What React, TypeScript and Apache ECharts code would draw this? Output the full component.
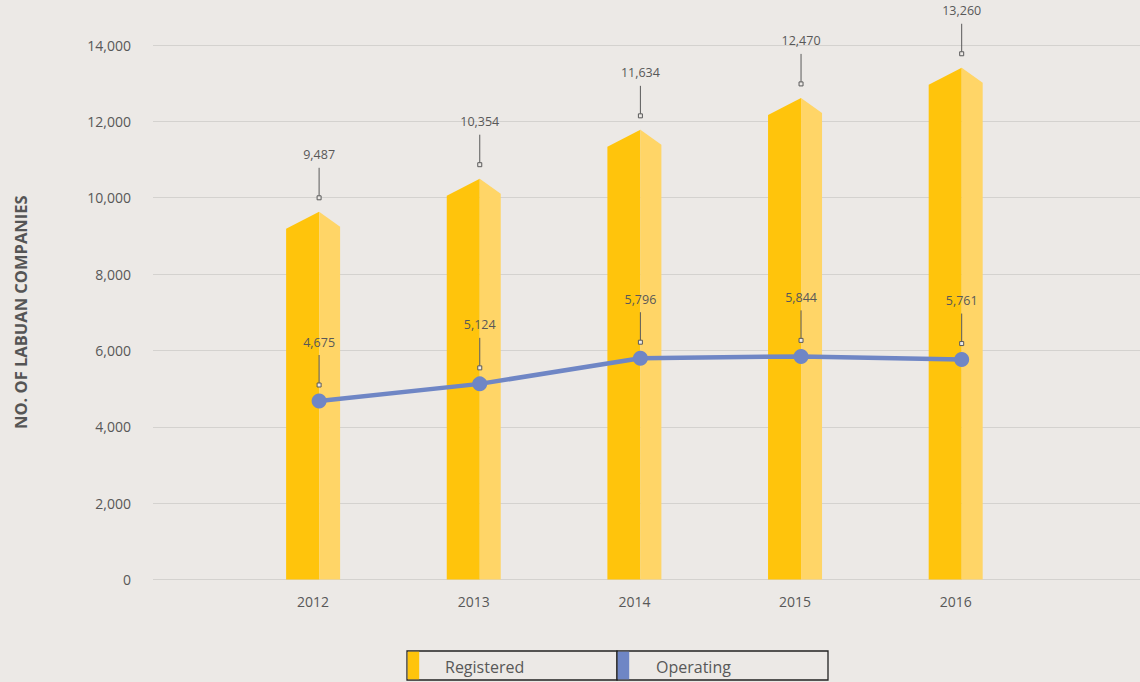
import React, { useEffect, useRef } from "react";
import * as echarts from "echarts";

const years = ["2012", "2013", "2014", "2015", "2016"];
const registered = [9487, 10354, 11634, 12470, 13260];
const operating = [4675, 5124, 5796, 5844, 5761];
const seriesNames = ["Registered", "Operating"];

const C_BAR_L = "#FFC40C";
const C_BAR_R = "#FFD567";
const C_LINE = "#6F86C5";
const C_TEXT = "#585858";
const BG = "#ECE9E6";
const FONT = "'Open Sans', 'Noto Sans', sans-serif";

export default function App() {
  const ref = useRef<HTMLDivElement>(null);

  useEffect(() => {
    if (!ref.current) return;
    const chart = echarts.init(ref.current, undefined, { renderer: "svg" });

    const regData = years.map((y, i) => [Number(y), registered[i]]);
    const opData = years.map((y, i) => [Number(y), operating[i]]);

    const annot = (gap: number) => (params: any, api: any) => {
      const x = api.value(0);
      const v = api.value(1);
      const p = api.coord([x, v]);
      const cx = p[0];
      const my = p[1] - gap;
      return {
        type: "group",
        children: [
          {
            type: "line",
            shape: { x1: cx, y1: my - 30, x2: cx, y2: my - 2 },
            style: { stroke: "#5a5a5a", lineWidth: 1 },
          },
          {
            type: "rect",
            shape: { x: cx - 2, y: my - 2, width: 4, height: 4 },
            style: { fill: BG, stroke: "#5a5a5a", lineWidth: 1 },
          },
          {
            type: "text",
            x: cx,
            y: my - 43,
            style: {
              text: api.value(1).toLocaleString("en-US"),
              fill: C_TEXT,
              fontSize: 12.5,
              fontFamily: FONT,
              align: "center",
              verticalAlign: "middle",
            },
          },
        ],
      };
    };

    const option: any = {
      animation: false,
      backgroundColor: BG,
      textStyle: { fontFamily: FONT },
      grid: { left: 153, right: 0, top: 45, bottom: 102.5 },
      xAxis: {
        type: "value",
        min: 2010.966,
        max: 2017.11,
        axisLine: { show: false },
        axisTick: { show: false },
        splitLine: { show: false },
        axisLabel: {
          customValues: years.map(Number),
          formatter: (v: number) => String(v),
          color: C_TEXT,
          fontSize: 14,
          margin: 15,
          padding: [0, 12, 0, 0],
          fontFamily: FONT,
        },
      },
      yAxis: {
        type: "value",
        min: 0,
        max: 14000,
        interval: 2000,
        name: "NO. OF LABUAN COMPANIES",
        nameLocation: "middle",
        nameGap: 124,
        nameTextStyle: {
          fontWeight: "bold",
          fontSize: 16.5,
          color: "#555555",
          fontFamily: FONT,
        },
        axisLine: { show: false },
        axisTick: { show: false },
        axisLabel: {
          color: C_TEXT,
          fontSize: 14,
          margin: 22,
          fontFamily: FONT,
          formatter: (v: number) => v.toLocaleString("en-US"),
        },
        splitLine: { lineStyle: { color: "#d4d2cf", width: 1 } },
      },
      series: [
        {
          type: "custom",
          name: seriesNames[0],
          data: regData,
          z: 2,
          renderItem: (params: any, api: any) => {
            const x = api.value(0);
            const v = api.value(1);
            const top = api.coord([x, v]);
            const base = api.coord([x, 0]);
            const cx = top[0];
            const yv = top[1];
            const yb = base[1];
            return {
              type: "group",
              children: [
                {
                  type: "polygon",
                  shape: {
                    points: [
                      [cx - 33, yb],
                      [cx - 33, yv + 11.5],
                      [cx, yv - 5.5],
                      [cx, yb],
                    ],
                  },
                  style: { fill: C_BAR_L },
                },
                {
                  type: "polygon",
                  shape: {
                    points: [
                      [cx, yb],
                      [cx, yv - 5.5],
                      [cx + 21, yv + 9.5],
                      [cx + 21, yb],
                    ],
                  },
                  style: { fill: C_BAR_R },
                },
              ],
            };
          },
        },
        {
          type: "line",
          name: seriesNames[1],
          data: opData,
          z: 3,
          symbol: "circle",
          symbolSize: 15,
          itemStyle: { color: C_LINE },
          lineStyle: { color: C_LINE, width: 4.5 },
        },
        {
          type: "custom",
          data: regData,
          z: 5,
          renderItem: annot(19.5),
        },
        {
          type: "custom",
          data: opData,
          z: 5,
          renderItem: annot(16),
        },
      ],
      graphic: [
        {
          type: "rect",
          shape: { x: 407, y: 651, width: 210, height: 29 },
          style: { fill: "none", stroke: "#222", lineWidth: 1.3 },
        },
        {
          type: "rect",
          shape: { x: 617, y: 651, width: 211, height: 29 },
          style: { fill: "none", stroke: "#222", lineWidth: 1.3 },
        },
        {
          type: "rect",
          shape: { x: 407.7, y: 651.7, width: 11.5, height: 27.6 },
          style: { fill: C_BAR_L },
        },
        {
          type: "rect",
          shape: { x: 617.7, y: 651.7, width: 11.5, height: 27.6 },
          style: { fill: C_LINE },
        },
        {
          type: "text",
          x: 445,
          y: 666.5,
          style: {
            text: seriesNames[0],
            fill: C_TEXT,
            fontSize: 16,
            fontFamily: FONT,
            verticalAlign: "middle",
          },
        },
        {
          type: "text",
          x: 656,
          y: 666.5,
          style: {
            text: seriesNames[1],
            fill: C_TEXT,
            fontSize: 16,
            fontFamily: FONT,
            verticalAlign: "middle",
          },
        },
      ],
    };

    chart.setOption(option);
    return () => chart.dispose();
  }, []);

  return (
    <div
      ref={ref}
      style={{ position: "fixed", left: 0, top: 0, width: 1140, height: 682 }}
    />
  );
}
